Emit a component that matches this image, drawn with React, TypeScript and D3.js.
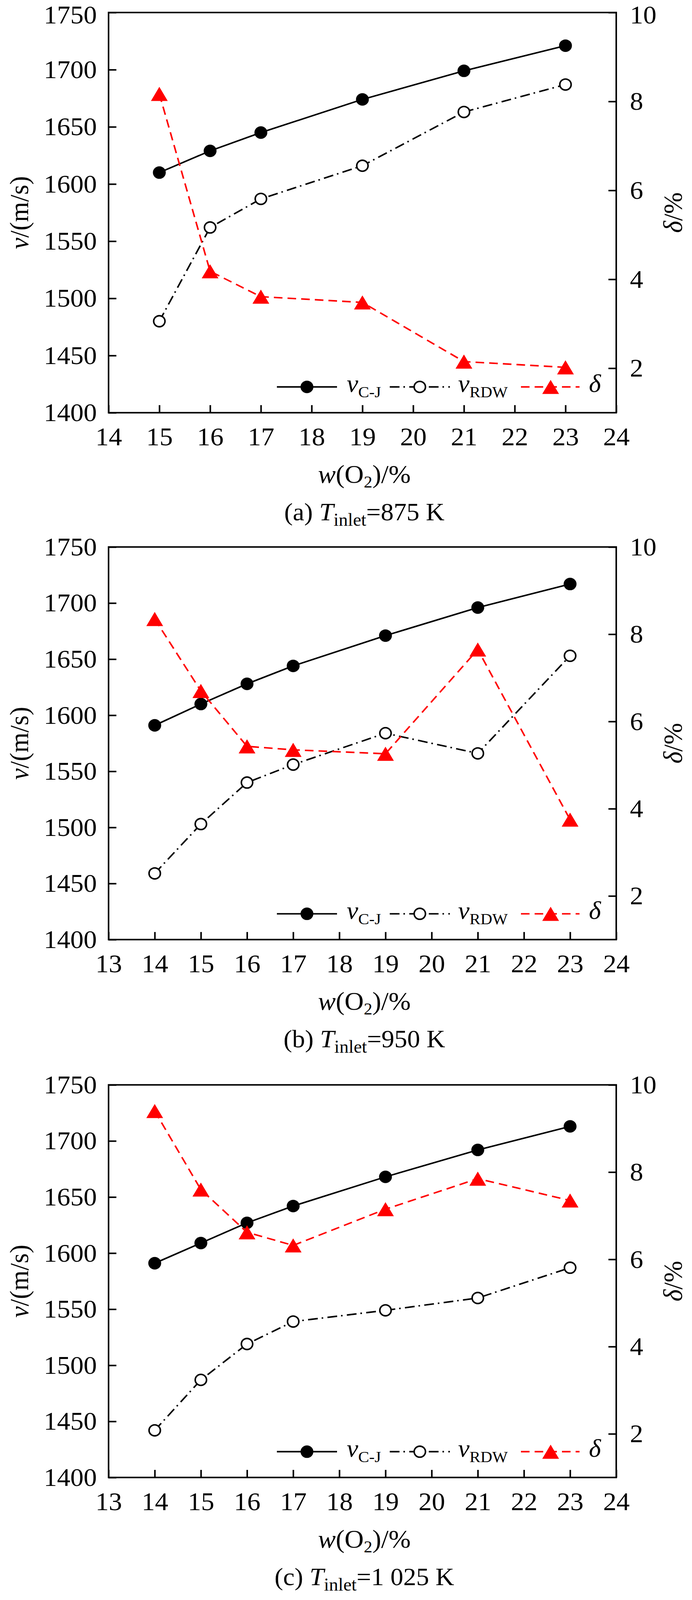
import { useEffect, useRef } from 'react';
import * as d3 from 'd3';

// panel (a) T_inlet = 875 K
const xA = [15, 16, 17, 19, 21, 23];
const vcjA = [1610, 1629, 1645, 1674, 1699, 1721];
const vrdwA = [1480, 1562, 1587, 1616, 1663, 1687];
const deltaA = [8.17, 4.18, 3.61, 3.48, 2.15, 2.02];

// panel (b) T_inlet = 950 K
const xB = [14, 15, 16, 17, 19, 21, 23];
const vcjB = [1591, 1610, 1628, 1644, 1671, 1696, 1717];
const vrdwB = [1459, 1503, 1540, 1556, 1584, 1566, 1653];
const deltaB = [8.35, 6.7, 5.43, 5.35, 5.26, 7.65, 3.75];

// panel (c) T_inlet = 1 025 K
const xC = [14, 15, 16, 17, 19, 21, 23];
const vcjC = [1591, 1609, 1627, 1642, 1668, 1692, 1713];
const vrdwC = [1442, 1487, 1519, 1539, 1549, 1560, 1587];
const deltaC = [9.4, 7.6, 6.62, 6.32, 7.15, 7.85, 7.35];

const leftTicks = [1400, 1450, 1500, 1550, 1600, 1650, 1700, 1750];
const rightTicks = [2, 4, 6, 8, 10];
const captions = [['(a) ', '=875 K'], ['(b) ', '=950 K'], ['(c) ', '=1 025 K']];

const FONT = '"Liberation Serif", "Times New Roman", serif';
const FS = 68;

// the browser viewport stops at 4096 px, so the 4218 px layout is squeezed into it
const W = 1772;
const H = 4218;
const VIEW_H = 4096;

// triangle centred on its bounding box (like the original markers)
const triBox = {
  draw(ctx: any, size: number) {
    const w = Math.sqrt((size * 4) / Math.sqrt(3));
    const h = (w * Math.sqrt(3)) / 2;
    ctx.moveTo(0, -h / 2);
    ctx.lineTo(w / 2, h / 2);
    ctx.lineTo(-w / 2, h / 2);
    ctx.closePath();
  },
};

export default function App() {
  const ref = useRef<SVGSVGElement>(null);

  useEffect(() => {
    if (!ref.current) return;
    const svg = d3.select(ref.current);
    svg.selectAll('*').remove();

    const panels = [
      { x: xA, cj: vcjA, rdw: vrdwA, d: deltaA, xd: [14, 24], top: 33, h: 1055 },
      { x: xB, cj: vcjB, rdw: vrdwB, d: deltaB, xd: [13, 24], top: 1442, h: 1035 },
      { x: xC, cj: vcjC, rdw: vrdwC, d: deltaC, xd: [13, 24], top: 2860, h: 1035 },
    ];

    const left = 278;
    const right = 1578;
    const tri = d3.symbol().type(triBox as any).size(800);

    panels.forEach((p, pi) => {
      const g = svg.append('g');
      const bottom = p.top + p.h;

      const x = d3.scaleLinear().domain(p.xd).range([left, right]);
      const y = d3.scaleLinear().domain([1400, 1750]).range([bottom, p.top]);
      const yR = d3.scaleLinear().domain([1, 10]).range([bottom, p.top]);

      const styleAxis = (a: any) => {
        a.attr('font-size', FS).attr('font-family', FONT);
        a.select('.domain').remove();
        a.selectAll('.tick line').attr('stroke', '#000').attr('stroke-width', 4);
        a.selectAll('.tick text').attr('fill', '#000');
      };

      // keep the topmost labels of the first panel inside the page
      const nudgeTop = (a: any) => {
        if (pi !== 0) return;
        a.selectAll('.tick text').filter((_: any, i: number, n: any[]) => i === n.length - 1).attr('y', 6);
      };

      g.append('g')
        .attr('transform', `translate(${left},0)`)
        .call(d3.axisLeft(y).tickValues(leftTicks).tickFormat(d3.format('d')).tickSizeInner(-20).tickSizeOuter(0).tickPadding(30))
        .call(styleAxis)
        .call(nudgeTop);

      g.append('g')
        .attr('transform', `translate(${right},0)`)
        .call(d3.axisRight(yR).tickValues(rightTicks).tickFormat(d3.format('d')).tickSizeInner(-20).tickSizeOuter(0).tickPadding(35))
        .call(styleAxis)
        .call(nudgeTop);

      g.append('g')
        .attr('transform', `translate(0,${bottom})`)
        .call(d3.axisBottom(x).tickValues(d3.range(p.xd[0], p.xd[1] + 1)).tickFormat(d3.format('d')).tickSizeInner(-20).tickSizeOuter(0).tickPadding(38))
        .call(styleAxis);

      // frame
      g.append('rect')
        .attr('x', left).attr('y', p.top)
        .attr('width', right - left).attr('height', p.h)
        .attr('fill', 'none').attr('stroke', '#000').attr('stroke-width', 4);

      const idx = d3.range(p.x.length);

      const drawLine = (vals: number[], scale: any, dash: string | null, color: string) => {
        const ln = d3.line<number>().x(i => x(p.x[i])).y(i => scale(vals[i]));
        g.append('path')
          .datum(idx)
          .attr('d', ln)
          .attr('fill', 'none')
          .attr('stroke', color)
          .attr('stroke-width', 4)
          .attr('stroke-dasharray', dash);
      };

      drawLine(p.cj, y, null, '#000');
      drawLine(p.rdw, y, '25,10,4,11', '#000');
      drawLine(p.d, yR, '22,13', '#ff0000');

      g.selectAll(null).data(idx).enter().append('circle')
        .attr('cx', i => x(p.x[i])).attr('cy', i => y(p.cj[i]))
        .attr('r', 16.5).attr('fill', '#000');

      g.selectAll(null).data(idx).enter().append('circle')
        .attr('cx', i => x(p.x[i])).attr('cy', i => y(p.rdw[i]))
        .attr('r', 14.5).attr('fill', '#fff').attr('stroke', '#000').attr('stroke-width', 4);

      g.selectAll(null).data(idx).enter().append('path')
        .attr('transform', i => `translate(${x(p.x[i])},${yR(p.d[i])})`)
        .attr('d', tri as any).attr('fill', '#ff0000');

      // legend
      const ly = bottom - 68;
      g.append('line').attr('x1', 709).attr('x2', 863).attr('y1', ly).attr('y2', ly)
        .attr('stroke', '#000').attr('stroke-width', 4);
      g.append('circle').attr('cx', 786).attr('cy', ly).attr('r', 16.5).attr('fill', '#000');
      g.append('line').attr('x1', 998).attr('x2', 1152).attr('y1', ly).attr('y2', ly)
        .attr('stroke', '#000').attr('stroke-width', 4).attr('stroke-dasharray', '25,10,4,11');
      g.append('circle').attr('cx', 1075).attr('cy', ly).attr('r', 14.5)
        .attr('fill', '#fff').attr('stroke', '#000').attr('stroke-width', 4);
      g.append('line').attr('x1', 1334).attr('x2', 1484).attr('y1', ly).attr('y2', ly)
        .attr('stroke', '#ff0000').attr('stroke-width', 4).attr('stroke-dasharray', '22,13');
      g.append('path').attr('transform', `translate(1410,${ly})`).attr('d', tri as any).attr('fill', '#ff0000');

      const legText = (lx: number, main: string, sub: string | null) => {
        const t = g.append('text').attr('x', lx).attr('y', ly + 13)
          .attr('font-family', FONT).attr('font-size', 66);
        t.append('tspan').attr('font-style', 'italic').text(main);
        if (sub) t.append('tspan').attr('font-size', 42).attr('dy', 14).text(sub);
      };
      legText(888, 'v', 'C-J');
      legText(1173, 'v', 'RDW');
      legText(1508, 'δ', null);

      // axis titles
      const mid = (p.top + bottom) / 2;
      const yt = g.append('text')
        .attr('transform', `translate(72,${mid}) rotate(-90)`)
        .attr('text-anchor', 'middle').attr('font-family', FONT).attr('font-size', FS);
      yt.append('tspan').attr('font-style', 'italic').text('v');
      yt.append('tspan').text('/(m/s)');

      const rt = g.append('text')
        .attr('transform', `translate(1746,${mid}) rotate(-90)`)
        .attr('text-anchor', 'middle').attr('font-family', FONT).attr('font-size', FS);
      rt.append('tspan').attr('font-style', 'italic').text('δ');
      rt.append('tspan').text('/%');

      const cx = (left + right) / 2;
      const xt = g.append('text')
        .attr('x', cx + 5).attr('y', bottom + 185)
        .attr('text-anchor', 'middle').attr('font-family', FONT).attr('font-size', FS);
      xt.append('tspan').attr('font-style', 'italic').text('w');
      xt.append('tspan').text('(O');
      xt.append('tspan').attr('font-size', 44).attr('dy', 12).text('2');
      xt.append('tspan').attr('dy', -12).text(')/%');

      const cap = g.append('text')
        .attr('x', cx + 5).attr('y', bottom + 284)
        .attr('text-anchor', 'middle').attr('font-family', FONT).attr('font-size', 66);
      cap.append('tspan').text(captions[pi][0]);
      cap.append('tspan').attr('font-style', 'italic').text('T');
      cap.append('tspan').attr('font-size', 47).attr('dy', 14).text('inlet');
      cap.append('tspan').attr('dy', -14).text(captions[pi][1]);
    });
  }, []);

  return (
    <svg
      ref={ref}
      width={W}
      height={VIEW_H}
      viewBox={`0 0 ${W} ${H}`}
      preserveAspectRatio="none"
      style={{ position: 'absolute', left: 0, top: 0, background: '#fff' }}
    />
  );
}
